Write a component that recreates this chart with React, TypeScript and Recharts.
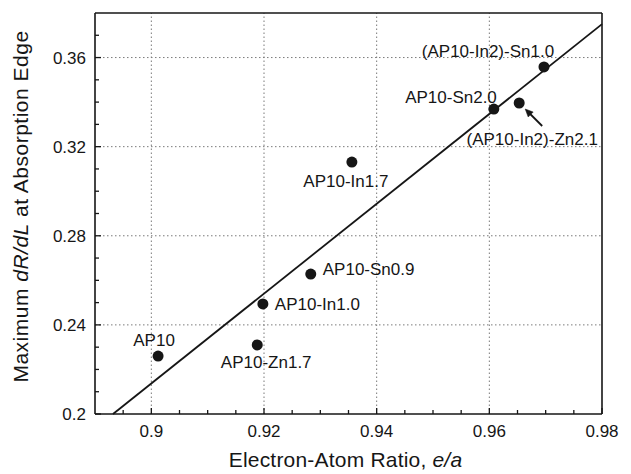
import React from 'react';
import { ScatterChart, Scatter, XAxis, YAxis, ReferenceLine } from 'recharts';

const samples = [
  'AP10',
  'AP10-Zn1.7',
  'AP10-In1.0',
  'AP10-Sn0.9',
  'AP10-In1.7',
  'AP10-Sn2.0',
  '(AP10-In2)-Zn2.1',
  '(AP10-In2)-Sn1.0',
];
const electronAtomRatio = [0.9012, 0.9188, 0.9198, 0.9283, 0.9356, 0.9608, 0.9653, 0.9697];
const maxDRdL = [0.226, 0.231, 0.2494, 0.2628, 0.3131, 0.3369, 0.3396, 0.3558];

// least-squares fit line end points
const fitX = [0.8932, 0.98];
const fitY = [0.2, 0.375];

const xMajorTicks = [0.9, 0.92, 0.94, 0.96, 0.98];
const xAllTicks = [
  0.895, 0.9, 0.905, 0.91, 0.915, 0.92, 0.925, 0.93, 0.935, 0.94,
  0.945, 0.95, 0.955, 0.96, 0.965, 0.97, 0.975, 0.98,
];
const yMajorTicks = [0.2, 0.24, 0.28, 0.32, 0.36];
const yAllTicks = [
  0.2, 0.21, 0.22, 0.23, 0.24, 0.25, 0.26, 0.27, 0.28, 0.29,
  0.3, 0.31, 0.32, 0.33, 0.34, 0.35, 0.36, 0.37,
];

const points = samples.map((name, i) => ({ name, x: electronAtomRatio[i], y: maxDRdL[i] }));

// where each sample's label sits relative to its dot
const labelPlacement: Record<string, { anchor: 'start' | 'middle' | 'end'; dx: number; dy: number }> = {
  'AP10': { anchor: 'middle', dx: -4, dy: -10 },
  'AP10-Zn1.7': { anchor: 'middle', dx: 9, dy: 23 },
  'AP10-In1.0': { anchor: 'start', dx: 12, dy: 6 },
  'AP10-Sn0.9': { anchor: 'start', dx: 12, dy: 1 },
  'AP10-In1.7': { anchor: 'middle', dx: -6, dy: 25 },
  'AP10-Sn2.0': { anchor: 'end', dx: 3, dy: -6 },
  '(AP10-In2)-Zn2.1': { anchor: 'middle', dx: 13, dy: 42 },
  '(AP10-In2)-Sn1.0': { anchor: 'middle', dx: -56, dy: -10 },
};

const FONT = '"Liberation Sans", Arial, Helvetica, sans-serif';
const INK = '#161616';
const GRID = '#7a7a7a';

const SampleDot = (props: any) => {
  const { cx, cy, payload } = props;
  const p = labelPlacement[payload.name];
  return (
    <g>
      <circle cx={cx} cy={cy} r={5.5} fill={INK} />
      <text
        x={cx + p.dx}
        y={cy + p.dy}
        textAnchor={p.anchor}
        fontSize={17}
        fontFamily={FONT}
        fill={INK}
      >
        {payload.name}
      </text>
      {payload.name === '(AP10-In2)-Zn2.1' && (
        <g stroke={INK} strokeWidth={1.8} fill={INK}>
          <line x1={cx + 23} y1={cy + 23} x2={cx + 9} y2={cy + 9} />
          <polygon
            points={`${cx + 6},${cy + 6} ${cx + 14},${cy + 9} ${cx + 9},${cy + 14}`}
            strokeWidth={0.5}
          />
        </g>
      )}
    </g>
  );
};

const XTick = (props: any) => {
  const { x, y, payload } = props;
  const major = xMajorTicks.includes(payload.value);
  return (
    <g>
      <line x1={x} y1={y} x2={x} y2={y - (major ? 6 : 4)} stroke={INK} strokeWidth={1.3} />
      {major && (
        <text x={x} y={y + 23} textAnchor="middle" fontSize={17} fontFamily={FONT} fill={INK}>
          {String(payload.value)}
        </text>
      )}
    </g>
  );
};

const YTick = (props: any) => {
  const { x, y, payload } = props;
  const major = yMajorTicks.includes(payload.value);
  return (
    <g>
      <line x1={x} y1={y} x2={x + (major ? 6 : 4)} y2={y} stroke={INK} strokeWidth={1.3} />
      {major && (
        <text x={x - 9} y={y + 6} textAnchor="end" fontSize={17} fontFamily={FONT} fill={INK}>
          {String(payload.value)}
        </text>
      )}
    </g>
  );
};

const XTitle = (props: any) => {
  const { viewBox } = props;
  const cx = viewBox.x + viewBox.width / 2;
  return (
    <text
      x={cx - 3}
      y={viewBox.y + 53}
      textAnchor="middle"
      fontSize={21}
      letterSpacing={0.2}
      fontFamily={FONT}
      fill={INK}
    >
      Electron-Atom Ratio, <tspan fontStyle="italic">e/a</tspan>
    </text>
  );
};

const YTitle = (props: any) => {
  const { viewBox } = props;
  const cy = viewBox.y + viewBox.height / 2 - 7;
  return (
    <text
      x={28}
      y={cy}
      transform={`rotate(-90, 28, ${cy})`}
      textAnchor="middle"
      fontSize={21}
      letterSpacing={0.5}
      fontFamily={FONT}
      fill={INK}
    >
      Maximum <tspan fontStyle="italic">dR/dL</tspan> at Absorption Edge
    </text>
  );
};

export default function App() {
  return (
    <div style={{ position: 'absolute', left: 0, top: 0, width: 631, height: 474, background: '#fff' }}>
      <ScatterChart width={631} height={474} margin={{ top: 13, right: 29, left: 0, bottom: 0 }}>
        <XAxis
          type="number"
          dataKey="x"
          domain={[0.89, 0.98]}
          ticks={xAllTicks}
          interval={0}
          tickSize={0}
          tickMargin={0}
          tickLine={false}
          tick={<XTick />}
          height={60}
          axisLine={{ stroke: INK, strokeWidth: 1.6 }}
          label={{ content: <XTitle /> }}
        />
        <YAxis
          type="number"
          dataKey="y"
          domain={[0.2, 0.38]}
          ticks={yAllTicks}
          interval={0}
          tickSize={0}
          tickMargin={0}
          tickLine={false}
          tick={<YTick />}
          width={95}
          axisLine={{ stroke: INK, strokeWidth: 1.6 }}
          label={{ content: <YTitle /> }}
        />
        {xMajorTicks.slice(0, -1).map((v) => (
          <ReferenceLine key={`gx${v}`} x={v} stroke={GRID} strokeDasharray="1.5 2.5" strokeWidth={1} />
        ))}
        {yMajorTicks.slice(1).map((v) => (
          <ReferenceLine key={`gy${v}`} y={v} stroke={GRID} strokeDasharray="1.5 2.5" strokeWidth={1} />
        ))}
        <ReferenceLine x={0.98} stroke={INK} strokeWidth={1.6} />
        <ReferenceLine y={0.38} stroke={INK} strokeWidth={1.6} />
        <ReferenceLine
          segment={[
            { x: fitX[0], y: fitY[0] },
            { x: fitX[1], y: fitY[1] },
          ]}
          stroke={INK}
          strokeWidth={1.8}
        />
        <Scatter data={points} shape={<SampleDot />} isAnimationActive={false} />
      </ScatterChart>
    </div>
  );
}
